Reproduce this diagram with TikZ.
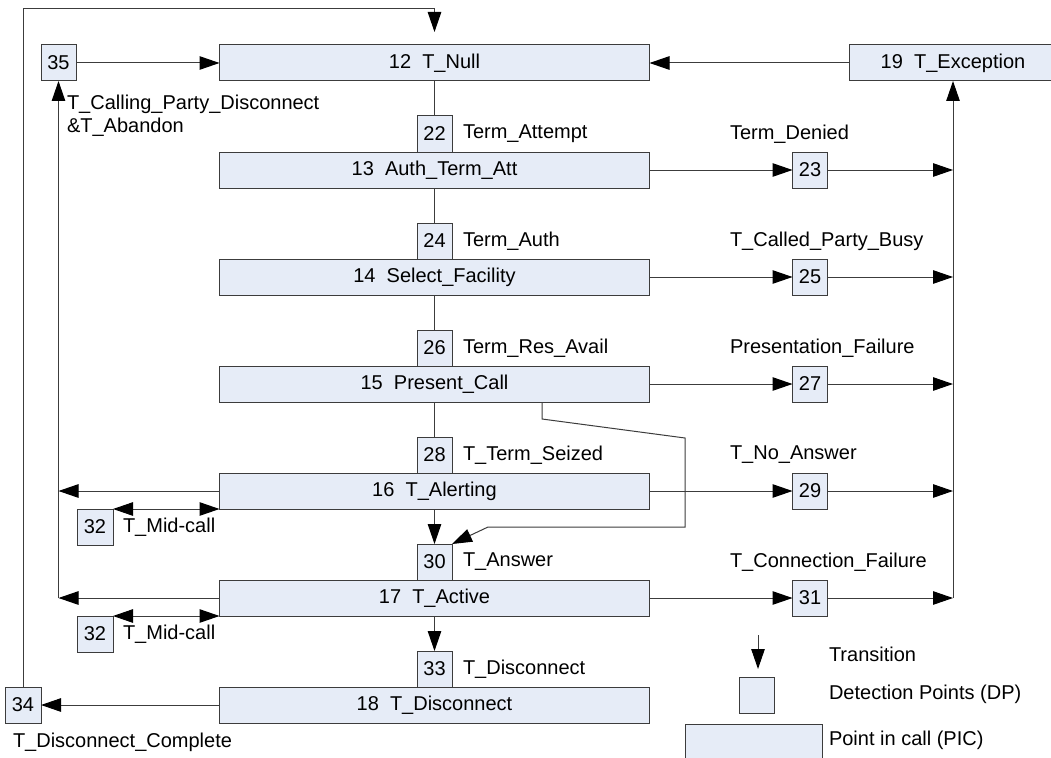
\documentclass[tikz,border=0pt]{standalone}
\usepackage{fontspec}
\setmainfont{Liberation Sans}
\usetikzlibrary{arrows.meta}
\definecolor{picfill}{RGB}{230,236,247}
\definecolor{edge}{RGB}{60,60,60}
\begin{document}
\begin{tikzpicture}[x=1pt,y=-1pt,
  every node/.style={font=\fontsize{20}{23}\selectfont, inner sep=0pt, outer sep=0pt},
  picbox/.style={draw=edge, fill=picfill, line width=1pt, minimum width=430pt, minimum height=36pt},
  dpbox/.style={draw=edge, fill=picfill, line width=1pt, minimum width=35pt, minimum height=36pt},
  lbl/.style={anchor=west},
  link/.style={draw=edge, line width=1pt},
  arr/.style={link, -{Triangle[length=20pt,width=13.5pt,color=black]}},
  darr/.style={link, {Triangle[length=20pt,width=13.5pt,color=black]}-{Triangle[length=20pt,width=13.5pt,color=black]}},
]
\clip (0,0) rectangle (1051,757);
\fill[white] (0,0) rectangle (1051,757);

% points in call
\node[picbox] (p12) at (434.5,63)  {12~~T\_Null};
\node[picbox] (p13) at (434.5,170) {13~~Auth\_Term\_Att};
\node[picbox] (p14) at (434.5,277) {14~~Select\_Facility};
\node[picbox] (p15) at (434.5,384) {15~~Present\_Call};
\node[picbox] (p16) at (434.5,491) {16~~T\_Alerting};
\node[picbox] (p17) at (434.5,598) {17~~T\_Active};
\node[picbox] (p18) at (434.5,705) {18~~T\_Disconnect};
\node[picbox, minimum width=208pt] (exc) at (953,63) {19~~T\_Exception};

% detection points on the main line
\node[dpbox] (dp22) at (434.5,134) {22};
\node[dpbox] (dp24) at (434.5,241) {24};
\node[dpbox] (dp26) at (434.5,348) {26};
\node[dpbox] (dp28) at (434.5,455) {28};
\node[dpbox] (dp30) at (434.5,562) {30};
\node[dpbox] (dp33) at (434.5,669) {33};

% detection points towards the exception
\node[dpbox] (dp23) at (810,170) {23};
\node[dpbox] (dp25) at (810,277) {25};
\node[dpbox] (dp27) at (810,384) {27};
\node[dpbox] (dp29) at (810,491) {29};
\node[dpbox] (dp31) at (810,598) {31};

% detection points on the left
\node[dpbox] (dp35) at (58.5,63) {35};
\node[dpbox, minimum width=36pt] (dp34) at (23,705) {34};
\node[dpbox, minimum width=36pt] (dp32a) at (95,527) {32};
\node[dpbox, minimum width=36pt] (dp32b) at (95,634) {32};

% event labels
\node[lbl] (l22) at (463,134) {Term\_Attempt};
\node[lbl] (l24) at (463,241) {Term\_Auth};
\node[lbl] (l26) at (463,348) {Term\_Res\_Avail};
\node[lbl] (l28) at (463,455) {T\_Term\_Seized};
\node[lbl] (l30) at (463,562) {T\_Answer};
\node[lbl] (l33) at (463,669) {T\_Disconnect};
\node[lbl] (l23) at (730,134) {Term\_Denied};
\node[lbl] (l25) at (730,241) {T\_Called\_Party\_Busy};
\node[lbl] (l27) at (730,348) {Presentation\_Failure};
\node[lbl] (l29) at (730,455) {T\_No\_Answer};
\node[lbl] (l31) at (730,562) {T\_Connection\_Failure};
\node[lbl, align=left] (l35) at (67,115.5) {T\_Calling\_Party\_Disconnect\\\&T\_Abandon};
\node[lbl] (l32a) at (123,527) {T\_Mid-call};
\node[lbl] (l32b) at (123,634) {T\_Mid-call};
\node[lbl] (l34) at (13,742) {T\_Disconnect\_Complete};

% main line
\draw[link] (p12.south) -- (dp22.north);
\draw[link] (p13.south) -- (dp24.north);
\draw[link] (p14.south) -- (dp26.north);
\draw[link] (p15.south) -- (dp28.north);
\draw[arr] (p16.south) -- (dp30.north);
\draw[arr] (p17.south) -- (dp33.north);

% present call straight to answer
\coordinate (b1) at (542,419);
\coordinate (b2) at (685,438);
\coordinate (b3) at (685,527);
\coordinate (b4) at (488,527);
\draw[arr] (p15.south -| b1) -- (b1) -- (b2) -- (b3) -- (b4) -- (dp30.north east);

% exception branch
\coordinate (railbot) at (953,598);
\foreach \p/\d in {p13/dp23, p14/dp25, p15/dp27, p16/dp29, p17/dp31}{
  \draw[arr] (\p.east) -- (\d.west);
  \draw[arr] (\d.east) -- (\d.east -| railbot);
}
\draw[link] (railbot) -- (railbot |- dp23.east);
\draw[arr] (railbot |- dp23.east) -- (exc.south);
\draw[arr] (exc.west) -- (p12.east);

% abandon branch
\draw[arr] (dp35.east) -- (p12.west);
\draw[arr] (p17.west -| dp35.south) -- (dp35.south);
\draw[arr] (p16.west) -- (p16.west -| dp35.south);
\draw[arr] (p17.west) -- (p17.west -| dp35.south);

% mid-call
\draw[darr] (dp32a.north east) -- (p16.south west);
\draw[darr] (dp32b.north east) -- (p17.south west);

% disconnect complete and return to null
\draw[arr] (p18.west) -- (dp34.east);
\coordinate (loopL) at (23,9);
\coordinate (loopR) at (434.5,9);
\coordinate (loopEnd) at (434.5,32);
\draw[arr] (dp34.north) -- (loopL) -- (loopR) -- (loopEnd);

% legend
\coordinate (lgA) at (758,635);
\coordinate (lgB) at (758,669);
\draw[arr] (lgA) -- (lgB);
\node[dpbox] (lgdp) at (756.5,695.5) {};
\node[picbox, minimum width=137pt] (lgpic) at (753.5,742) {};
\node[lbl] (lg1) at (829,654) {Transition};
\node[lbl] (lg2) at (829,694) {Detection Points (DP)};
\node[lbl] (lg3) at (829,740) {Point in call (PIC)};
\end{tikzpicture}
\end{document}
